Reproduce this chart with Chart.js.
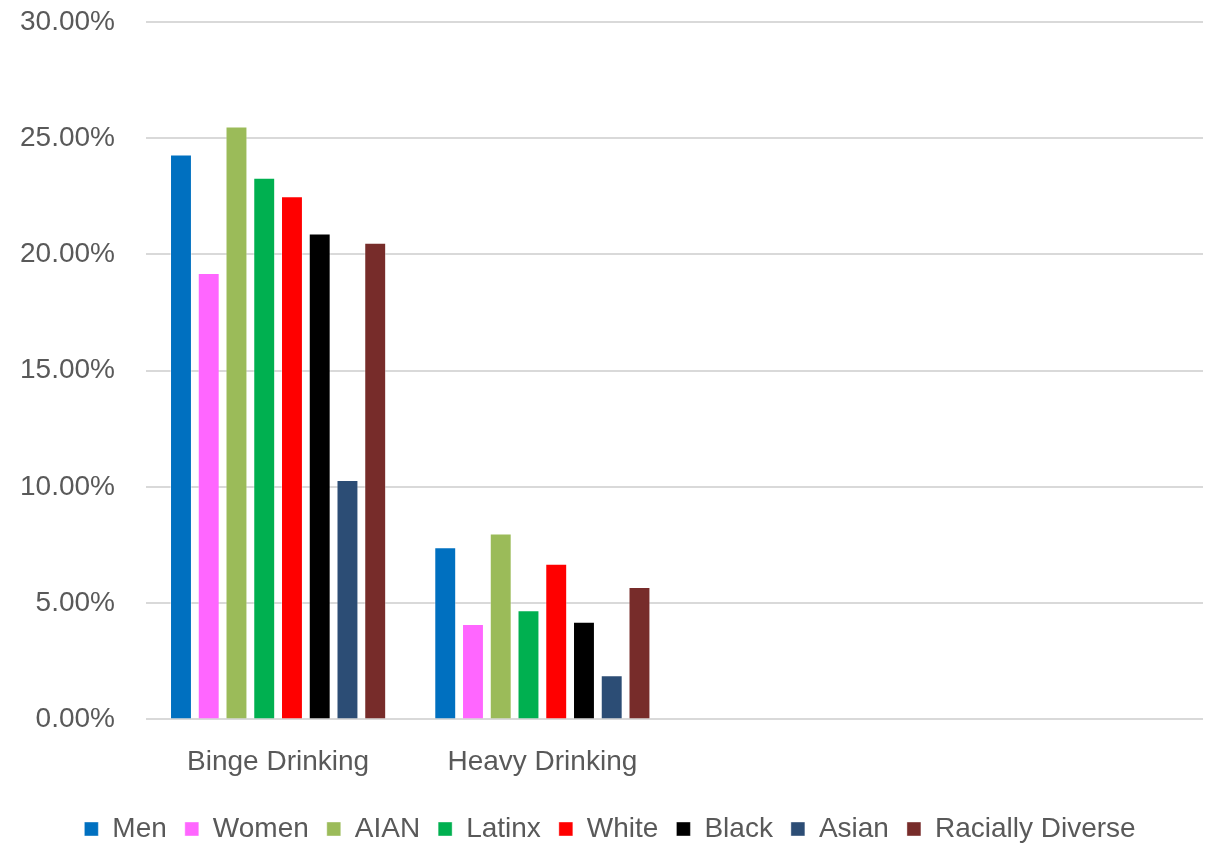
<!DOCTYPE html>
<html>
<head>
<meta charset="utf-8">
<script src="https://cdn.jsdelivr.net/npm/chart.js@4"></script>
<style>
  html, body { margin: 0; padding: 0; background: #ffffff; }
  #wrap { width: 1206px; height: 845px; position: relative; }
</style>
</head>
<body>
<div id="wrap"><canvas id="drinkChart"></canvas></div>
<script>
// Categories on the x axis (the last two are empty in the original)
const categories = ['Binge Drinking', 'Heavy Drinking', '', ''];

// Percent values per group
const men       = [24.3, 7.4, null, null];
const women     = [19.2, 4.1, null, null];
const aian      = [25.5, 8.0, null, null];
const latinx    = [23.3, 4.7, null, null];
const white     = [22.5, 6.7, null, null];
const black     = [20.9, 4.2, null, null];
const asian     = [10.3, 1.9, null, null];
const diverse   = [20.5, 5.7, null, null];

const seriesNames = ['Men', 'Women', 'AIAN', 'Latinx', 'White', 'Black', 'Asian', 'Racially Diverse'];
const seriesData = [men, women, aian, latinx, white, black, asian, diverse];
const seriesColors = ['#0070C0', '#FF66FF', '#9BBB59', '#00B050', '#FF0000', '#000000', '#2C4D75', '#772C2A'];

const textColor = '#595959';
const fontFamily = "'Liberation Sans', 'DejaVu Sans', sans-serif";

const datasets = seriesNames.map((name, i) => ({
  label: name,
  data: seriesData[i],
  backgroundColor: seriesColors[i],
  borderColor: 'rgba(255,255,255,0.4)',
  borderWidth: 1,
  categoryPercentage: 0.84,
  barPercentage: 0.79
}));

// The legend in the original sits a little right of centre
const nudgeLegend = {
  id: 'nudgeLegend',
  afterLayout(chart) {
    chart.legend.left += 14;
    chart.legend.right += 14;
  }
};

new Chart(document.getElementById('drinkChart').getContext('2d'), {
  type: 'bar',
  data: { labels: categories, datasets: datasets },
  plugins: [nudgeLegend],
  options: {
    responsive: true,
    maintainAspectRatio: false,
    animation: false,
    layout: { padding: { top: 0, right: 3, left: -11, bottom: -8 } },
    plugins: {
      tooltip: { enabled: false },
      legend: {
        position: 'bottom',
        labels: {
          color: textColor,
          font: { family: fontFamily, size: 28 },
          boxWidth: 14,
          boxHeight: 14,
          padding: 18
        }
      }
    },
    scales: {
      x: {
        grid: { display: false },
        border: { display: false },
        ticks: {
          color: textColor,
          font: { family: fontFamily, size: 28 },
          padding: 18,
          maxRotation: 0
        }
      },
      y: {
        min: 0,
        max: 30,
        grid: { color: '#D9D9D9', lineWidth: 2, drawTicks: false },
        border: { display: false },
        ticks: {
          stepSize: 5,
          color: textColor,
          font: { family: fontFamily, size: 28 },
          padding: 31,
          callback: v => v.toFixed(2) + '%'
        },
        // tick padding also pads the top of the axis; keep only the label half-height
        afterFit(scale) {
          scale.paddingTop = 22;
        }
      }
    }
  }
});
</script>
</body>
</html>
